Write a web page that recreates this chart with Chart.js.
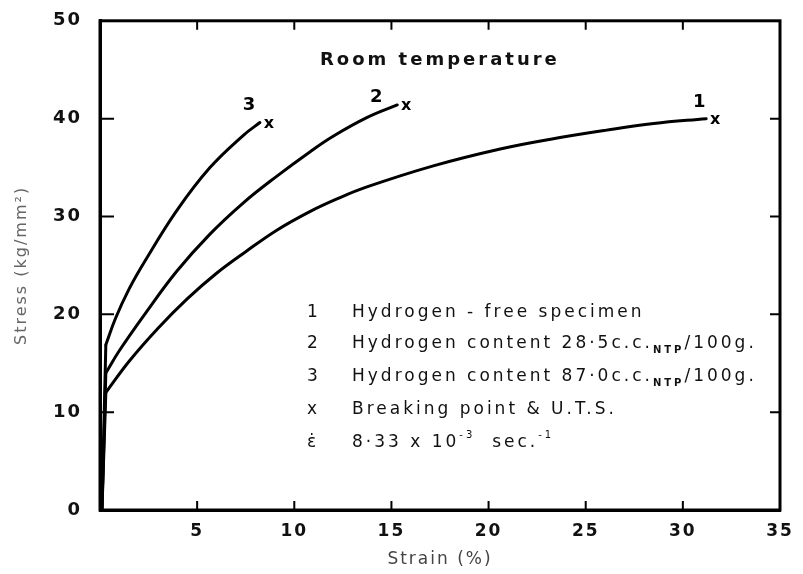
<!DOCTYPE html>
<html><head><meta charset="utf-8">
<script src="https://cdn.jsdelivr.net/npm/chart.js@4/dist/chart.umd.min.js"></script>
<style>html,body{margin:0;padding:0;background:#fff}#wrap{width:803px;height:574px;position:relative}</style>
</head><body><div id="wrap"><canvas id="c"></canvas></div>
<script>
// ---- data ----
// elastic (near-vertical) parts: strain start/end and stress start/end for each curve
const elasticStrain = [0.1, 0.3];
const elasticStress1 = [0, 12.0];
const elasticStress2 = [0, 14.0];
const elasticStress3 = [0, 16.9];

const strain1 = [0.3, 1.5, 3.0, 4.5, 6.0, 7.5, 9.1, 10.8, 12.2, 13.7, 17.2, 20.6, 23.2, 26.0, 28.5, 31.2];
const stress1 = [12.0, 15.2, 18.6, 21.6, 24.2, 26.4, 28.6, 30.5, 31.8, 33.0, 35.2, 36.9, 37.9, 38.8, 39.5, 40.0];

const strain2 = [0.3, 1.0, 2.3, 3.95, 5.66, 7.38, 9.09, 10.8, 12.0, 13.73, 15.3];
const stress2 = [14.0, 16.3, 20.0, 24.4, 28.2, 31.4, 34.1, 36.6, 38.2, 40.1, 41.4];

const strain3 = [0.3, 0.8, 1.5, 2.3, 3.95, 5.66, 7.38, 8.23];
const stress3 = [16.9, 19.6, 22.6, 25.4, 30.6, 35.0, 38.3, 39.6];

const curveLabels = ['1', '2', '3'];
const breakMark = 'x';
const xTickValues = [5, 10, 15, 20, 25, 30, 35];
const yTickValues = [0, 10, 20, 30, 40, 50];
const chartTitle = 'Room temperature';
const xTitle = 'Strain (%)';
const yTitle = 'Stress (kg/mm²)';
const legendKeys = ['1', '2', '3', 'x', 'ε̇'];
const legendTexts = [
  [['Hydrogen - free specimen', '']],
  [['Hydrogen content 28·5c.c.', ''], ['NTP', 'sub'], ['/100g.', '']],
  [['Hydrogen content 87·0c.c.', ''], ['NTP', 'sub'], ['/100g.', '']],
  [['Breaking point & U.T.S.', '']],
  [['8·33 x 10', ''], ['-3', 'sup'], ['  sec.', ''], ['-1', 'sup']]
];

const pts = (xs, ys) => xs.map((x, i) => ({x: x, y: ys[i]}));
const FONT = '"DejaVu Sans", sans-serif';

const curveStyle = {borderColor: '#000', borderWidth: 3, pointRadius: 0, fill: false,
  tension: 0.4, showLine: true, borderCapStyle: 'round', borderJoinStyle: 'round'};
const elasticStyle = {borderColor: '#000', borderWidth: 3, pointRadius: 0, fill: false,
  tension: 0, showLine: true};

const datasets = [
  Object.assign({label: curveLabels[0], data: pts(strain1, stress1)}, curveStyle),
  Object.assign({label: curveLabels[1], data: pts(strain2, stress2)}, curveStyle),
  Object.assign({label: curveLabels[2], data: pts(strain3, stress3)}, curveStyle),
  Object.assign({label: 'e1', data: pts(elasticStrain, elasticStress1)}, elasticStyle),
  Object.assign({label: 'e2', data: pts(elasticStrain, elasticStress2)}, elasticStyle),
  Object.assign({label: 'e3', data: pts(elasticStrain, elasticStress3)}, elasticStyle)
];

// label offsets (pixels) relative to curve end
const numOffsets = [[-7, -16], [-21, -8], [-11, -17]];

function drawRich(ctx, parts, x, y, size) {
  let cx = x;
  parts.forEach(p => {
    const t = p[0], mode = p[1];
    let fs = size, dy = 0, weight = '';
    if (mode === 'sub') { fs = Math.round(size * 0.6); dy = 6; weight = 'bold '; }
    if (mode === 'sup') { fs = Math.round(size * 0.6); dy = -8; }
    ctx.font = weight + fs + 'px ' + FONT;
    ctx.fillText(t, cx, y + dy);
    cx += ctx.measureText(t).width;
  });
}

const decor = {
  id: 'decor',
  beforeDraw(chart) { chart.ctx.letterSpacing = '2px'; },
  afterDraw(chart) {
    const ctx = chart.ctx, a = chart.chartArea;
    const xs = chart.scales.x, ys = chart.scales.y;
    ctx.save();
    ctx.letterSpacing = '0px';
    ctx.strokeStyle = '#000';
    // frame
    ctx.lineWidth = 3;
    ctx.strokeRect(a.left, a.top, a.right - a.left, a.bottom - a.top);
    // inner ticks
    ctx.lineWidth = 2;
    const tl = 9;
    xTickValues.forEach(v => {
      if (v >= 35) return;
      const px = xs.getPixelForValue(v);
      ctx.beginPath();
      ctx.moveTo(px, a.bottom); ctx.lineTo(px, a.bottom - tl);
      ctx.moveTo(px, a.top); ctx.lineTo(px, a.top + tl);
      ctx.stroke();
    });
    yTickValues.forEach(v => {
      if (v <= 0 || v >= 50) return;
      const py = ys.getPixelForValue(v);
      ctx.beginPath();
      ctx.moveTo(a.left, py); ctx.lineTo(a.left + 14, py);
      ctx.moveTo(a.right, py); ctx.lineTo(a.right - 10, py);
      ctx.stroke();
    });
    // break marks and curve numbers
    ctx.fillStyle = '#000';
    [0, 1, 2].forEach(k => {
      const d = chart.data.datasets[k].data;
      const last = d[d.length - 1];
      const px = xs.getPixelForValue(last.x), py = ys.getPixelForValue(last.y);
      ctx.font = 'bold 16px ' + FONT;
      ctx.textAlign = 'center'; ctx.textBaseline = 'middle';
      ctx.fillText(breakMark, px + 9, py + 1);
      ctx.font = 'bold 18px ' + FONT;
      ctx.fillText(curveLabels[k], px + numOffsets[k][0], py + numOffsets[k][1]);
    });
    // title
    ctx.letterSpacing = '3px';
    ctx.font = 'bold 18px ' + FONT;
    ctx.textAlign = 'left'; ctx.textBaseline = 'middle';
    ctx.fillStyle = '#111';
    ctx.fillText(chartTitle, 320, 60);
    // legend
    const rows = [313, 344, 377, 410, 443];
    ctx.letterSpacing = '3px';
    legendKeys.forEach((k, i) => {
      ctx.font = '17px ' + FONT;
      ctx.textAlign = 'left';
      ctx.fillStyle = '#111';
      ctx.fillText(k, 307, rows[i]);
      drawRich(ctx, legendTexts[i], 352, rows[i], 17);
    });
    ctx.restore();
    ctx.letterSpacing = '0px';
  }
};

new Chart(document.getElementById('c'), {
  type: 'scatter',
  data: {datasets: datasets},
  options: {
    responsive: true, maintainAspectRatio: false, animation: false,
    layout: {padding: {top: 20, right: 23, left: 0, bottom: 0}},
    plugins: {legend: {display: false}, tooltip: {enabled: false}},
    scales: {
      x: {
        type: 'linear', min: 0, max: 35,
        afterBuildTicks: s => { s.ticks = [0].concat(xTickValues).map(v => ({value: v})); },
        ticks: {callback: v => (v === 0 ? '' : String(v)), color: '#111', padding: 3,
          font: {family: FONT, size: 17, weight: 'bold'}, maxRotation: 0, autoSkip: false},
        grid: {display: false},
        border: {display: true, color: '#000', width: 3},
        title: {display: true, text: xTitle, color: '#444', font: {family: FONT, size: 17}, padding: {top: 4, bottom: 4}},
        afterFit: s => { s.height = 64; }
      },
      y: {
        type: 'linear', min: 0, max: 50,
        afterBuildTicks: s => { s.ticks = yTickValues.map(v => ({value: v})); },
        ticks: {color: '#111', padding: 10, font: {family: FONT, size: 18, weight: 'bold'}},
        grid: {display: false},
        border: {display: true, color: '#000', width: 3},
        title: {display: true, text: yTitle, color: '#666', font: {family: FONT, size: 16}, padding: {top: 12, bottom: 0}},
        afterFit: s => { s.width = 100; }
      }
    }
  },
  plugins: [decor]
});
</script>
</body></html>
